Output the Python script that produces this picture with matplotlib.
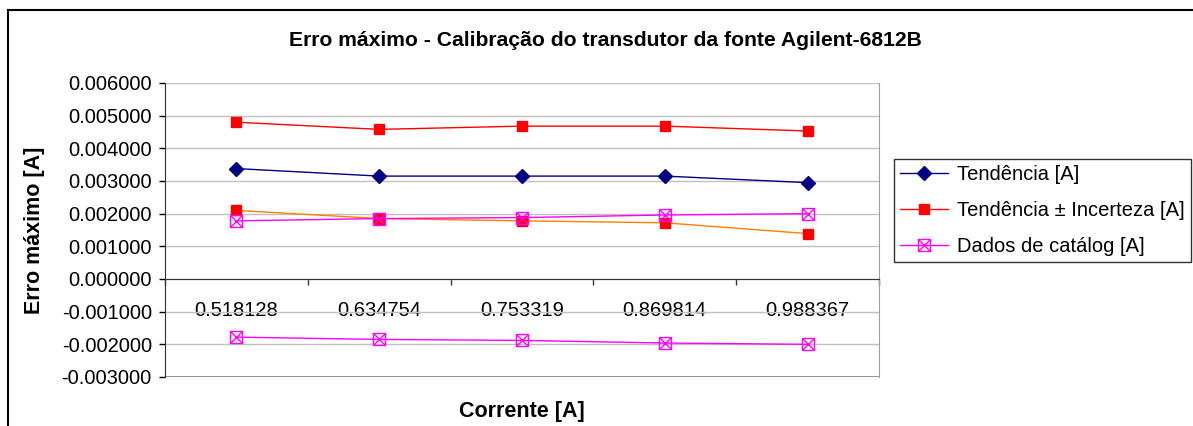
import matplotlib
matplotlib.use('Agg')
import matplotlib.pyplot as plt
from matplotlib.lines import Line2D
from matplotlib.patches import Rectangle
from matplotlib.legend_handler import HandlerTuple
import numpy as np

plt.rcParams['font.family'] = ['Liberation Sans', 'DejaVu Sans']

correntes = ['0.518128', '0.634754', '0.753319', '0.869814', '0.988367']
tendencia = [0.00338, 0.00315, 0.00315, 0.00315, 0.00295]
tend_mais_inc = [0.00480, 0.00458, 0.00468, 0.00468, 0.00453]
tend_menos_inc = [0.00210, 0.00185, 0.00178, 0.00172, 0.00139]
catalogo_sup = [0.00178, 0.00185, 0.00188, 0.00196, 0.00200]
catalogo_inf = [-0.00178, -0.00185, -0.00188, -0.00196, -0.00200]

W, H = 1193, 426
fig = plt.figure(figsize=(W / 100, H / 100), dpi=100)
ax = fig.add_axes([165 / W, 1 - 377 / H, (879 - 165) / W, (377 - 83) / H])

x = np.arange(len(correntes))

ax.plot(x, tendencia, color='#000080', lw=1, marker='D', ms=7.5, zorder=4)
ax.plot(x, tend_mais_inc, color='#FF0000', lw=1, marker='s', ms=6.5, zorder=4)
ax.plot(x, tend_menos_inc, color='#FF8000', lw=1, marker='s', ms=6.5,
        mfc='#FF0000', mec='#FF0000', zorder=3)
for serie in (catalogo_sup, catalogo_inf):
    ax.plot(x, serie, color='#FF00FF', lw=1, marker='s', ms=9, mfc='none',
            mec='#FF00FF', mew=1, zorder=5)
    ax.plot(x, serie, ls='none', marker='x', ms=8, mec='#FF00FF', mew=1, zorder=5)

ax.set_xlim(-0.5, len(correntes) - 0.5)
ax.set_ylim(-0.003, 0.006)
ax.set_yticks(np.arange(-0.003, 0.0061, 0.001))
ax.yaxis.set_major_formatter(matplotlib.ticker.FormatStrFormatter('%.6f'))
ax.grid(axis='y', color='#C0C0C0', lw=1)
ax.set_axisbelow(True)
ax.tick_params(axis='y', labelsize=14.5, length=4, width=1, direction='out', pad=5.5)

# eixo das categorias passa pelo zero
ax.spines['bottom'].set_position(('data', 0))
ax.spines['bottom'].set_color('#333333')
ax.spines['left'].set_color('#333333')
ax.spines['right'].set_color('#A0A0A0')
ax.spines['top'].set_visible(False)
ax.axhline(-0.003, color='#808080', lw=1.2, zorder=1)

ax.set_xticks(np.arange(-0.5, len(correntes), 1.0))
ax.set_xticklabels([])
ax.set_xticks(x, minor=True)
ax.set_xticklabels(correntes, minor=True)
ax.tick_params(axis='x', which='major', length=4, width=1, direction='out', color='#333333')
ax.tick_params(axis='x', which='minor', length=0, labelsize=14.5, pad=16)

fig.text(605 / W, 1 - 40 / H,
         'Erro máximo - Calibração do transdutor da fonte Agilent-6812B',
         ha='center', va='center', fontsize=15.2, fontweight='bold')
fig.text((165 + 879) / 2 / W, 1 - 411 / H, 'Corrente [A]',
         ha='center', va='center', fontsize=15.5, fontweight='bold')
fig.text(35 / W, 1 - 230 / H, 'Erro máximo [A]', rotation=90,
         ha='center', va='center', fontsize=15.5, fontweight='bold')

h1 = Line2D([], [], color='#000080', lw=1, marker='D', ms=7.5)
h2 = Line2D([], [], color='#FF0000', lw=1, marker='s', ms=6.5)
h3a = Line2D([], [], color='#FF00FF', lw=1, marker='s', ms=9, mfc='none')
h3b = Line2D([], [], ls='none', marker='x', ms=8, mec='#FF00FF', mew=1)
leg = fig.legend([h1, h2, (h3a, h3b)],
                 ['Tendência [A]', 'Tendência ± Incerteza [A]', 'Dados de catálog [A]'],
                 handler_map={tuple: HandlerTuple(ndivide=1)},
                 loc='upper left', bbox_to_anchor=(894 / W, 1 - 159 / H),
                 fontsize=14.5, frameon=True, fancybox=False, edgecolor='black',
                 handlelength=2.4, handletextpad=0.45, labelspacing=0.85,
                 borderpad=0.3, borderaxespad=0)
leg.get_frame().set_linewidth(1)

# moldura da área do gráfico
fig.patches.append(Rectangle((8 / W, -0.1), 1.2, 1.1 - 10 / H, transform=fig.transFigure,
                             fill=False, edgecolor='black', lw=1.5))

fig.savefig('out.png', dpi=100)
